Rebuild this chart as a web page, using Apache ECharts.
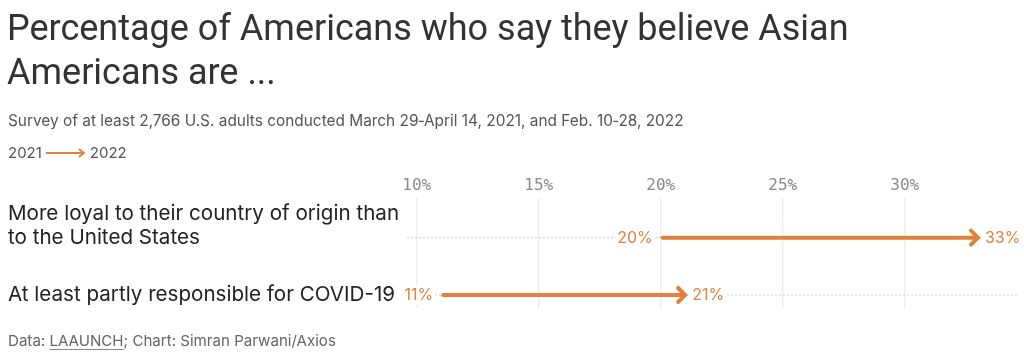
<!DOCTYPE html>
<html>
<head>
<meta charset="utf-8">
<script src="https://cdn.jsdelivr.net/npm/echarts@6/dist/echarts.min.js"></script>
<style>
html,body{margin:0;padding:0;background:#fff;}
#chart{width:1024px;height:359px;}
</style>
</head>
<body>
<div id="chart"></div>
<script>
// ---- data ----
var categories = ['More loyal to their country of origin than\nto the United States', 'At least partly responsible for COVID-19'];
var values2021 = [20, 11];
var values2022 = [33, 21];
var tickValues = [10, 15, 20, 25, 30];
var tickLabels = ['10%', '15%', '20%', '25%', '30%'];

var ORANGE = '#E0823D';
var TITLE_FONT = '400 36px Roboto';
var SUB_FONT = '400 15.4px Inter';
var LEG_FONT = '400 15px Inter';
var CAT_FONT = '400 20.6px Inter';
var FOOT_FONT = '400 15.1px Inter';
var VAL_FONT = '400 16px Inter';

function textWidth(t, font) {
  var c = document.createElement('canvas').getContext('2d');
  c.font = font;
  return c.measureText(t).width;
}

var chart = echarts.init(document.getElementById('chart'), null, {renderer: 'canvas'});

var rows = categories.map(function (c, i) { return [values2021[i], values2022[i], i]; });
var ticks = tickValues.map(function (v, i) { return [v, tickLabels[i]]; });

var ulStart = 8 + textWidth('Data: ', FOOT_FONT);
var ulEnd = 8 + textWidth('Data: LAAUNCH', FOOT_FONT);
var legW = textWidth('2021', LEG_FONT);

var option = {
  animation: false,
  backgroundColor: '#fff',
  grid: {left: 407, right: 7, top: 198, bottom: 51, containLabel: false},
  xAxis: {type: 'value', min: 9.6, max: 34.6, show: false},
  yAxis: {type: 'value', inverse: true, min: -0.693, max: 1.227, show: false},
  graphic: [
    {type: 'text', x: 7, y: 31, style: {text: 'Percentage of Americans who say they believe Asian', font: TITLE_FONT, fill: '#333', verticalAlign: 'middle'}},
    {type: 'text', x: 7, y: 75, style: {text: 'Americans are ...', font: TITLE_FONT, fill: '#333', verticalAlign: 'middle'}},
    {type: 'text', x: 8, y: 121, style: {text: 'Survey of at least 2,766 U.S. adults conducted March 29\u2011April 14, 2021, and Feb. 10\u201128, 2022', font: SUB_FONT, fill: '#555', verticalAlign: 'middle'}},
    {type: 'text', x: 8, y: 153, style: {text: '2021', font: LEG_FONT, fill: '#555', verticalAlign: 'middle'}},
    {type: 'line', shape: {x1: 12 + legW, y1: 153, x2: 50 + legW, y2: 153}, style: {stroke: ORANGE, lineWidth: 2}},
    {type: 'polyline', shape: {points: [[45 + legW, 149], [50 + legW, 153], [45 + legW, 157]]}, style: {stroke: ORANGE, lineWidth: 2, fill: null}},
    {type: 'text', x: 56 + legW, y: 153, style: {text: '2022', font: LEG_FONT, fill: '#555', verticalAlign: 'middle'}},
    {type: 'text', x: 8, y: 341, style: {text: 'Data: LAAUNCH; Chart: Simran Parwani/Axios', font: FOOT_FONT, fill: '#666', verticalAlign: 'middle'}},
    {type: 'line', shape: {x1: ulStart, y1: 349.5, x2: ulEnd, y2: 349.5}, style: {stroke: '#888', lineWidth: 1}}
  ],
  series: [
    {
      type: 'custom',
      name: 'grid',
      data: ticks,
      z: 1,
      renderItem: function (params, api) {
        var cs = params.coordSys;
        var x = api.coord([api.value(0), 0])[0];
        return {
          type: 'group',
          children: [
            {type: 'line', shape: {x1: x, y1: cs.y, x2: x, y2: cs.y + cs.height}, style: {stroke: '#e6e6e6', lineWidth: 1}},
            {type: 'text', x: x, y: cs.y - 12, style: {text: ticks[params.dataIndex][1], font: '400 16px "DejaVu Sans Mono"', fill: '#8a8a8a', align: 'center', verticalAlign: 'middle'}}
          ]
        };
      }
    },
    {
      type: 'custom',
      name: 'rows',
      data: rows,
      z: 2,
      renderItem: function (params, api) {
        var cs = params.coordSys;
        var i = params.dataIndex;
        var p0 = api.coord([api.value(0), api.value(2)]);
        var p1 = api.coord([api.value(1), api.value(2)]);
        var y = p0[1];
        var lines = categories[i].split('\n');
        var children = [
          {type: 'line', shape: {x1: cs.x, y1: y, x2: cs.x + cs.width, y2: y}, style: {stroke: '#cfcfcf', lineWidth: 1, lineDash: [2, 2]}}
        ];
        lines.forEach(function (t, k) {
          children.push({type: 'text', x: 8, y: y - (lines.length - 1 - k) * 24, style: {text: t, font: CAT_FONT, fill: '#222', align: 'left', verticalAlign: 'middle'}});
        });
        children.push(
          {type: 'line', shape: {x1: p0[0] + 2, y1: y, x2: p1[0] - 1, y2: y}, style: {stroke: ORANGE, lineWidth: 4, lineCap: 'round'}},
          {type: 'polyline', shape: {points: [[p1[0] - 7, y - 7], [p1[0], y], [p1[0] - 7, y + 7]]}, style: {stroke: ORANGE, lineWidth: 4, fill: null, lineCap: 'round', lineJoin: 'miter'}},
          {type: 'text', x: p0[0] - 6, y: y, style: {text: values2021[i] + '%', font: VAL_FONT, fill: ORANGE, align: 'right', verticalAlign: 'middle', backgroundColor: '#fff', padding: [2, 2]}},
          {type: 'text', x: p1[0] + 5, y: y, style: {text: values2022[i] + '%', font: VAL_FONT, fill: ORANGE, align: 'left', verticalAlign: 'middle', backgroundColor: '#fff', padding: [2, 2]}}
        );
        return {type: 'group', children: children};
      }
    }
  ]
};
chart.setOption(option);
</script>
</body>
</html>
